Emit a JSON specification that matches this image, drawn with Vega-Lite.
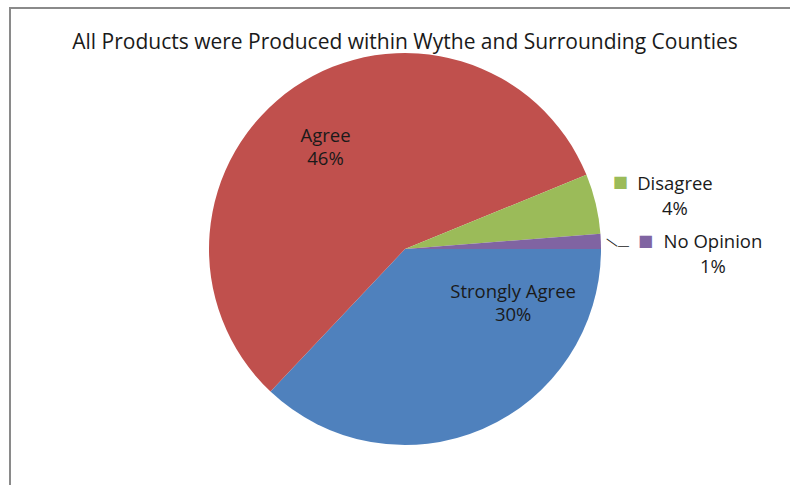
{
  "$schema": "https://vega.github.io/schema/vega-lite/v6.json",
  "width": 790,
  "height": 482,
  "autosize": "none",
  "padding": {"left": 10, "top": 8, "right": 0, "bottom": 0},
  "background": "white",
  "view": {"stroke": "#8a8a8a", "strokeWidth": 2},
  "layer": [
    {
      "data": {
        "values": [
          {"response": "Strongly Agree", "percent": 30, "order": 1},
          {"response": "Agree", "percent": 46, "order": 2},
          {"response": "Disagree", "percent": 4, "order": 3},
          {"response": "No Opinion", "percent": 1, "order": 4}
        ]
      },
      "transform": [
        {"calculate": "[datum.response, datum.percent + '%']", "as": "label"}
      ],
      "encoding": {
        "theta": {
          "field": "percent",
          "type": "quantitative",
          "stack": true,
          "scale": {"range": [1.5707963268, 7.8539816340]}
        },
        "order": {"field": "order", "type": "quantitative"},
        "color": {
          "field": "response",
          "type": "nominal",
          "scale": {
            "domain": ["Strongly Agree", "Agree", "Disagree", "No Opinion"],
            "range": ["#4F81BD", "#C0504D", "#9BBB59", "#8064A2"]
          },
          "legend": null
        }
      },
      "layer": [
        {"mark": {"type": "arc", "outerRadius": 196}},
        {
          "mark": {"type": "text", "radius": 129, "thetaOffset": -0.063, "dy": -11.5, "font": "Open Sans", "fontSize": 18.5, "lineHeight": 23, "align": "center", "baseline": "middle"},
          "encoding": {
            "text": {"condition": {"test": "datum.response === 'Agree'", "field": "label"}, "value": ""},
            "color": {"value": "#1a1a1a"}
          }
        },
        {
          "mark": {"type": "text", "radius": 121, "thetaOffset": -0.698, "dy": -11.5, "font": "Open Sans", "fontSize": 18.5, "lineHeight": 23, "align": "center", "baseline": "middle"},
          "encoding": {
            "text": {"condition": {"test": "datum.response === 'Strongly Agree'", "field": "label"}, "value": ""},
            "color": {"value": "#1a1a1a"}
          }
        },
        {
          "mark": {"type": "text", "radius": 275, "thetaOffset": 0.041, "dy": -12.5, "font": "Open Sans", "fontSize": 18.5, "lineHeight": 25, "align": "center", "baseline": "middle"},
          "encoding": {
            "text": {"condition": {"test": "datum.response === 'Disagree'", "field": "label"}, "value": ""},
            "color": {"value": "#1a1a1a"}
          }
        },
        {
          "mark": {"type": "text", "radius": 308, "thetaOffset": 0.0566, "dy": -12.5, "font": "Open Sans", "fontSize": 18.5, "lineHeight": 25, "align": "center", "baseline": "middle"},
          "encoding": {
            "text": {"condition": {"test": "datum.response === 'No Opinion'", "field": "label"}, "value": ""},
            "color": {"value": "#1a1a1a"}
          }
        },
        {
          "mark": {"type": "text", "radius": 225.5, "thetaOffset": -0.0697, "font": "DejaVu Sans", "fontSize": 16, "align": "center", "baseline": "middle"},
          "encoding": {
            "text": {"condition": {"test": "datum.response === 'Disagree'", "value": "■"}, "value": ""}
          }
        },
        {
          "mark": {"type": "text", "radius": 240.6, "thetaOffset": 0.0056, "font": "DejaVu Sans", "fontSize": 16, "align": "center", "baseline": "middle"},
          "encoding": {
            "text": {"condition": {"test": "datum.response === 'No Opinion'", "value": "■"}, "value": ""}
          }
        },
        {
          "mark": {"type": "text", "radius": 207.6, "thetaOffset": 0.005, "angle": 36, "font": "Liberation Sans", "fontSize": 13, "align": "center", "baseline": "middle"},
          "encoding": {
            "text": {"condition": {"test": "datum.response === 'No Opinion'", "value": "—"}, "value": ""},
            "color": {"value": "#1a1a1a"}
          }
        },
        {
          "mark": {"type": "text", "radius": 218.5, "thetaOffset": 0.025, "font": "Liberation Sans", "fontSize": 11, "align": "center", "baseline": "middle"},
          "encoding": {
            "text": {"condition": {"test": "datum.response === 'No Opinion'", "value": "—"}, "value": ""},
            "color": {"value": "#1a1a1a"}
          }
        }
      ]
    },
    {
      "data": {"values": [{"title": "All Products were Produced within Wythe and Surrounding Counties"}]},
      "mark": {"type": "text", "theta": 0, "radius": 206, "font": "Open Sans", "fontSize": 21, "color": "#1a1a1a", "align": "center", "baseline": "middle"},
      "encoding": {"text": {"field": "title"}}
    }
  ]
}
